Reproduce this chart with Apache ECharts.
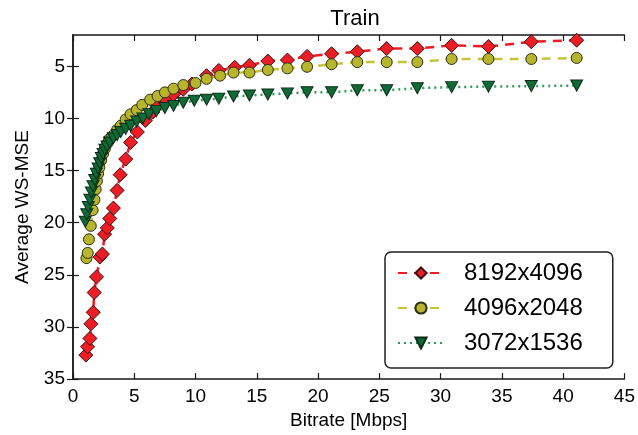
<!DOCTYPE html>
<html>
<head>
<meta charset="utf-8">
<script src="https://cdn.jsdelivr.net/npm/echarts@6/dist/echarts.min.js"></script>
<style>
html,body{margin:0;padding:0;background:#fff;}
#chart{width:638px;height:435px;}
</style>
</head>
<body>
<div id="chart"></div>
<script>
// ---- data ----
const seriesNames = ['8192x4096', '4096x2048', '3072x1536'];

const red8192 = [
  [1.05,32.7],[1.19,31.9],[1.38,31.1],[1.46,29.7],[1.65,28.6],[1.73,26.7],[1.92,25.2],
  [2.2,23.3],[2.4,23.0],[2.58,21.1],[2.8,20.5],[3.0,19.6],[3.3,18.6],[3.6,16.9],
  [3.85,15.4],[4.3,13.9],[4.7,12.3],[5.25,11.3],[5.9,10.2],[6.5,9.4],[6.9,8.6],
  [7.5,8.1],[8.2,7.7],[9.0,7.2],[9.7,6.7],[10.9,5.9],[11.9,5.4],[13.2,5.1],
  [14.4,4.9],[15.9,4.5],[17.5,4.4],[19.1,4.05],[21.1,3.8],[23.2,3.6],[25.6,3.3],
  [28.1,3.3],[30.9,3.0],[33.9,3.1],[37.4,2.65],[41.1,2.5]
];

const yellow4096 = [
  [1.1,23.4],[1.2,22.9],[1.3,21.6],[1.45,20.3],[1.6,18.8],[1.75,17.8],[1.85,16.8],
  [1.95,16.0],[2.05,15.3],[2.15,14.7],[2.3,14.0],[2.45,13.4],[2.6,12.9],[2.8,12.4],
  [2.95,12.0],[3.2,11.7],[3.6,11.1],[3.9,10.7],[4.3,10.1],[4.7,9.6],[5.2,9.2],
  [5.65,8.7],[6.3,8.2],[6.9,7.85],[7.5,7.5],[8.2,7.15],[9.0,6.8],[10.0,6.6],
  [10.9,6.2],[12.0,5.9],[13.1,5.6],[14.4,5.6],[15.9,5.35],[17.5,5.2],[19.1,5.05],
  [21.1,4.8],[23.2,4.6],[25.6,4.6],[28.1,4.6],[30.9,4.3],[33.9,4.3],[37.4,4.3],[41.1,4.2]
];

const green3072 = [
  [1.0,19.9],[1.12,19.2],[1.25,18.5],[1.38,17.8],[1.5,17.1],[1.63,16.5],[1.77,15.9],
  [1.9,15.3],[2.05,14.8],[2.18,14.3],[2.31,13.8],[2.45,13.4],[2.6,13.0],[2.78,12.7],
  [3.0,12.3],[3.3,11.9],[3.6,11.6],[3.9,11.3],[4.3,11.0],[4.7,10.7],[5.2,10.3],
  [5.7,10.0],[6.2,9.6],[6.8,9.3],[7.5,9.0],[8.2,8.8],[9.0,8.5],[9.9,8.3],[10.9,8.2],
  [11.9,8.1],[13.1,7.9],[14.4,7.8],[15.9,7.7],[17.5,7.6],[19.1,7.5],[21.1,7.5],
  [23.2,7.3],[25.6,7.3],[28.1,7.1],[30.9,7.0],[33.9,6.95],[37.4,6.9],[41.1,6.85]
];

const xTicks = [0,5,10,15,20,25,30,35,40,45];
const yTicks = [5,10,15,20,25,30,35];

// ---- chart ----
const FONT = '"Liberation Sans", Arial, Helvetica, sans-serif';
const chart = echarts.init(document.getElementById('chart'), null, {renderer:'canvas'});

const axisLineStyle = {color:'#1a1a1a', width:1.5};
const tickStyle = {color:'#1a1a1a', width:1.2};

const option = {
  animation: false,
  backgroundColor: '#ffffff',
  title: {
    text: 'Train',
    left: 350, top: 3, textAlign: 'center',
    textStyle: {fontFamily: FONT, fontSize: 22, fontWeight: 'normal', color: '#000'}
  },
  grid: {left: 73, right: 11, top: 35, bottom: 53},
  legend: {
    orient: 'vertical',
    left: 385, top: 252,
    padding: [9, 30, 13, 12],
    itemGap: 11,
    itemWidth: 46, itemHeight: 14,
    borderColor: '#222', borderWidth: 1.5, borderRadius: 6,
    backgroundColor: '#fff',
    data: seriesNames,
    textStyle: {fontFamily: FONT, fontSize: 24, color: '#000', padding: [0,0,0,15]}
  },
  xAxis: [{
    type: 'value', min: xTicks[0], max: xTicks[xTicks.length-1], interval: 5,
    position: 'bottom',
    name: 'Bitrate [Mbps]', nameLocation: 'middle', nameGap: 27,
    nameTextStyle: {fontFamily: FONT, fontSize: 19, color: '#000'},
    axisLine: {show: true, lineStyle: axisLineStyle},
    axisTick: {show: true, inside: true, length: 6, lineStyle: tickStyle, customValues: xTicks},
    axisLabel: {fontFamily: FONT, fontSize: 19, color: '#000', margin: 8, customValues: xTicks,
      showMinLabel: true, showMaxLabel: true},
    splitLine: {show: false}
  }, {
    type: 'value', min: xTicks[0], max: xTicks[xTicks.length-1], interval: 5,
    position: 'top',
    axisLine: {show: true, lineStyle: axisLineStyle},
    axisTick: {show: true, inside: true, length: 6, lineStyle: tickStyle, customValues: xTicks},
    axisLabel: {show: false},
    splitLine: {show: false}
  }],
  yAxis: [{
    type: 'value', min: 2, max: 35, inverse: true,
    position: 'left',
    name: 'Average WS-MSE', nameLocation: 'middle', nameGap: 41, nameRotate: 90,
    nameTextStyle: {fontFamily: FONT, fontSize: 19, color: '#000'},
    axisLine: {show: true, lineStyle: axisLineStyle},
    axisTick: {show: true, inside: true, length: 6, lineStyle: tickStyle, customValues: yTicks},
    axisLabel: {fontFamily: FONT, fontSize: 19, color: '#000', margin: 8, customValues: yTicks},
    splitLine: {show: false}
  }, {
    type: 'value', min: 2, max: 35, inverse: true,
    position: 'right',
    axisLine: {show: true, lineStyle: axisLineStyle},
    axisTick: {show: true, inside: true, length: 6, lineStyle: tickStyle, customValues: yTicks},
    axisLabel: {show: false},
    splitLine: {show: false}
  }],
  series: [{
    name: seriesNames[0], type: 'line', data: red8192,
    xAxisIndex: 0, yAxisIndex: 0,
    symbol: 'diamond', symbolSize: 14, showAllSymbol: true,
    itemStyle: {color: '#ee1c25', borderColor: '#3a1010', borderWidth: 1},
    lineStyle: {color: '#ee1c25', width: 2.5, type: [9, 7]},
    z: 2
  }, {
    name: seriesNames[1], type: 'line', data: yellow4096,
    xAxisIndex: 0, yAxisIndex: 0,
    symbol: 'circle', symbolSize: 11, showAllSymbol: true,
    itemStyle: {color: '#b6b52c', borderColor: '#2e2e10', borderWidth: 1},
    lineStyle: {color: '#c4c43c', width: 2.5, type: [9, 7]},
    z: 3
  }, {
    name: seriesNames[2], type: 'line', data: green3072,
    xAxisIndex: 0, yAxisIndex: 0,
    symbol: 'triangle', symbolRotate: 180, symbolSize: [12, 11], showAllSymbol: true,
    itemStyle: {color: '#0f6b35', borderColor: '#0d2a18', borderWidth: 1},
    lineStyle: {color: '#2e9c58', width: 2.5, type: [2, 4]},
    z: 4
  }]
};
chart.setOption(option);
</script>
</body>
</html>
